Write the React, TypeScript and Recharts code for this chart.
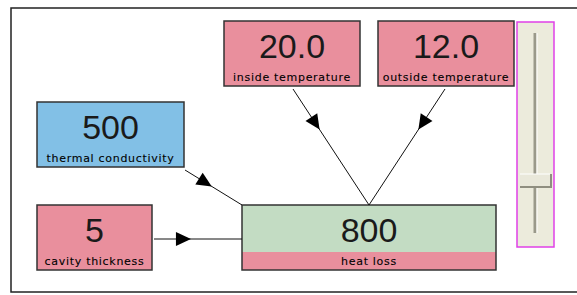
import React from 'react';
import { ScatterChart, XAxis, YAxis, ReferenceArea, ReferenceLine } from 'recharts';

// Node contents of the heat-loss model
const nodeLabels = ['inside temperature', 'outside temperature', 'thermal conductivity', 'cavity thickness', 'heat loss'];
const nodeValues = ['20.0', '12.0', '500', '5', '800'];
const nodeKinds = ['input', 'input', 'constant', 'input', 'output'];
// every input feeds the heat loss node
const links = [
  { from: 0, to: 4 },
  { from: 1, to: 4 },
  { from: 2, to: 4 },
  { from: 3, to: 4 },
];
const sliderValue = 0.26; // thumb position, 0 = bottom, 1 = top

// Diagram layout (axis units = pixels of the drawing)
const boxLayout = [
  { x1: 224, x2: 360, y1: 21, y2: 86 },
  { x1: 378, x2: 514, y1: 21, y2: 86 },
  { x1: 37, x2: 184, y1: 102, y2: 167 },
  { x1: 37, x2: 152, y1: 205, y2: 270 },
  { x1: 242, x2: 496, y1: 205, y2: 270 },
];
const linkLayout = [
  { x1: 293, y1: 89, x2: 369, y2: 205, head: 0.35 },
  { x1: 445, y1: 89, x2: 369, y2: 205, head: 0.35 },
  { x1: 185, y1: 170, x2: 242, y2: 205, head: 0.47 },
  { x1: 154, y1: 239, x2: 242, y2: 239, head: 0.42 },
];
const sliderLayout = { x1: 517, x2: 554, y1: 22, y2: 247 };
const frameLayout = { x1: 11, x2: 590, y1: 8, y2: 292 };

const fills: Record<string, string> = {
  input: '#e98f9d',
  constant: '#82c0e6',
  output: '#c3dcc3',
};

const BoxShape = (i: number) => (props: any) => {
  const { x, y, width, height } = props;
  const kind = nodeKinds[i];
  const band = kind === 'output';
  return (
    <g>
      <rect x={x} y={y} width={width} height={height} fill={fills[kind]} />
      {band && <rect x={x} y={y + height - 18} width={width} height={18} fill={fills.input} />}
      <rect x={x} y={y} width={width} height={height} fill="none" stroke="#333" strokeWidth={1.5} />
      <text
        x={x + width / 2}
        y={y + 37}
        textAnchor="middle"
        fontFamily="Liberation Sans, Arial, sans-serif"
        fontSize={34}
        fill="#1a1a1a"
      >
        {nodeValues[i]}
      </text>
      <text
        x={x + width / 2}
        y={y + height - 5.5}
        textAnchor="middle"
        fontFamily="DejaVu Sans, sans-serif"
        fontSize={11}
        letterSpacing={0.7}
        fill="#000"
        stroke="#000"
        strokeWidth={0.1}
      >
        {nodeLabels[i]}
      </text>
    </g>
  );
};

const ArrowShape = (head: number) => (props: any) => {
  const { x1, y1, x2, y2 } = props;
  const dx = x2 - x1;
  const dy = y2 - y1;
  const len = Math.sqrt(dx * dx + dy * dy) || 1;
  const ux = dx / len;
  const uy = dy / len;
  const tx = x1 + dx * head;
  const ty = y1 + dy * head;
  const L = 15;
  const W = 7;
  const bx = tx - ux * L;
  const by = ty - uy * L;
  const pts = `${tx},${ty} ${bx - uy * W},${by + ux * W} ${bx + uy * W},${by - ux * W}`;
  return (
    <g>
      <line x1={x1} y1={y1} x2={x2} y2={y2} stroke="#111" strokeWidth={1} />
      <polygon points={pts} fill="#000" />
    </g>
  );
};

const SliderShape = (props: any) => {
  const { x, y, width, height } = props;
  const cx = x + width / 2;
  const top = y + 11;
  const bottom = y + height - 14;
  const ty = bottom - (bottom - top) * sliderValue;
  return (
    <g>
      <rect x={x} y={y} width={width} height={height} fill="#ecebdc" stroke="#e040e8" strokeWidth={1.5} />
      <rect x={cx - 2} y={top} width={3} height={bottom - top} fill="#9a998a" />
      <rect x={cx + 1} y={top} width={1} height={bottom - top} fill="#ffffff" />
      <rect x={x + 3} y={ty - 7} width={width - 5} height={14} fill="#8f8e80" />
      <rect x={x + 3} y={ty - 7} width={width - 7} height={12} fill="#e9e8da" />
      <line x1={x + 3} y1={ty - 7} x2={x + width - 4} y2={ty - 7} stroke="#fff" />
    </g>
  );
};

const FrameShape = (props: any) => {
  const { x, y, width, height } = props;
  return <rect x={x} y={y} width={width} height={height} fill="#fff" stroke="#222" strokeWidth={1.5} />;
};

export default function App() {
  return (
    <div style={{ position: 'absolute', left: 0, top: 0, background: '#fff' }}>
      <ScatterChart width={577} height={295} margin={{ top: 0, right: 0, bottom: 0, left: 0 }}>
        <XAxis type="number" dataKey="x" domain={[0, 577]} hide allowDataOverflow />
        <YAxis type="number" dataKey="y" domain={[0, 295]} reversed hide allowDataOverflow />
        <ReferenceArea {...frameLayout} ifOverflow="visible" shape={FrameShape} />
        {links.map((l, i) => (
          <ReferenceLine
            key={`${l.from}-${l.to}`}
            segment={[
              { x: linkLayout[i].x1, y: linkLayout[i].y1 },
              { x: linkLayout[i].x2, y: linkLayout[i].y2 },
            ]}
            ifOverflow="visible"
            shape={ArrowShape(linkLayout[i].head)}
          />
        ))}
        {nodeLabels.map((name, i) => (
          <ReferenceArea key={name} {...boxLayout[i]} ifOverflow="visible" shape={BoxShape(i)} />
        ))}
        <ReferenceArea {...sliderLayout} ifOverflow="visible" shape={SliderShape} />
      </ScatterChart>
    </div>
  );
}
